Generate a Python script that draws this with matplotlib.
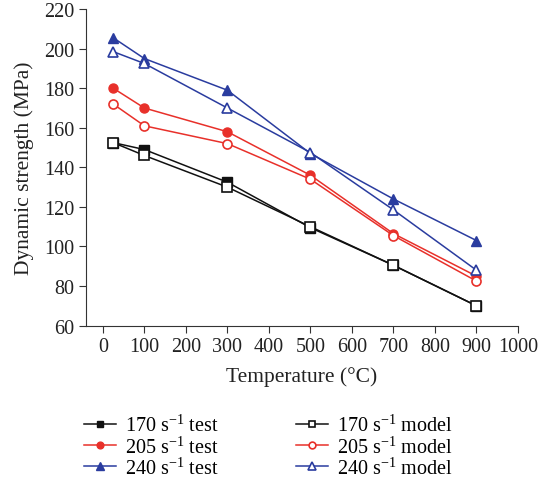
import matplotlib
matplotlib.use("Agg")
import matplotlib.pyplot as plt

plt.rcParams['font.family'] = 'Liberation Serif'
plt.rcParams['mathtext.fontset'] = 'custom'
plt.rcParams['mathtext.rm'] = 'Liberation Serif'
plt.rcParams['mathtext.it'] = 'Liberation Serif:italic'

temp = [25, 100, 300, 500, 700, 900]
test_170 = [152.5, 149, 132.5, 109.5, 90.5, 70]
model_170 = [152.5, 146, 130, 110, 90.5, 70]
test_205 = [180, 170, 158, 136, 106.5, 85]
model_205 = [172, 161, 152, 134, 105.5, 82.5]
test_240 = [205.5, 195, 179, 147, 124, 103]
model_240 = [198.5, 192.5, 170, 147.5, 118.5, 88]

black = '#111111'
red = '#e8302a'
blue = '#2a3c9f'

fig = plt.figure(figsize=(5.39, 4.81), dpi=100)
ax = fig.add_axes([0.16, 0.321, 0.801, 0.658])

ms = 6.5
lw = 1.1
h1, = ax.plot(temp, test_170, color=black, marker='s', ms=ms, lw=lw, label='170 s$^{-1}$ test')
h2, = ax.plot(temp, test_205, color=red, marker='o', ms=ms, lw=lw, label='205 s$^{-1}$ test')
h3, = ax.plot(temp, test_240, color=blue, marker='^', ms=ms + 1, lw=lw, label='240 s$^{-1}$ test')
h4, = ax.plot(temp, model_170, color=black, marker='s', ms=ms, lw=lw, mfc='white', mew=1.2, label='170 s$^{-1}$ model')
h5, = ax.plot(temp, model_205, color=red, marker='o', ms=ms, lw=lw, mfc='white', mew=1.2, label='205 s$^{-1}$ model')
h6, = ax.plot(temp, model_240, color=blue, marker='^', ms=ms + 1, lw=lw, mfc='white', mew=1.2, label='240 s$^{-1}$ model')

ax.set_xlim(-40, 1000)
ax.set_ylim(60, 220)
ax.set_xticks(range(0, 1001, 100))
ax.set_yticks(range(60, 221, 20))
ax.spines['top'].set_visible(False)
ax.spines['right'].set_visible(False)
ax.spines['left'].set_color('#333333')
ax.spines['bottom'].set_color('#333333')
ax.tick_params(labelsize=14.5, length=5, color='#333333', labelcolor='#222222')
ax.set_xlabel('Temperature (°C)', fontsize=15.5, color='#222222', labelpad=7)
ax.set_ylabel('Dynamic strength (MPa)', fontsize=15.5, color='#222222', labelpad=7)

fig.legend(handles=[h1, h2, h3, h4, h5, h6], ncol=2, loc='upper left',
           bbox_to_anchor=(0.14, 0.152), frameon=False, fontsize=14.5,
           handlelength=1.6, handletextpad=0.45, labelspacing=0.0,
           columnspacing=3.85, borderaxespad=0, markerscale=0.75)

fig.savefig('out.png', dpi=100)
